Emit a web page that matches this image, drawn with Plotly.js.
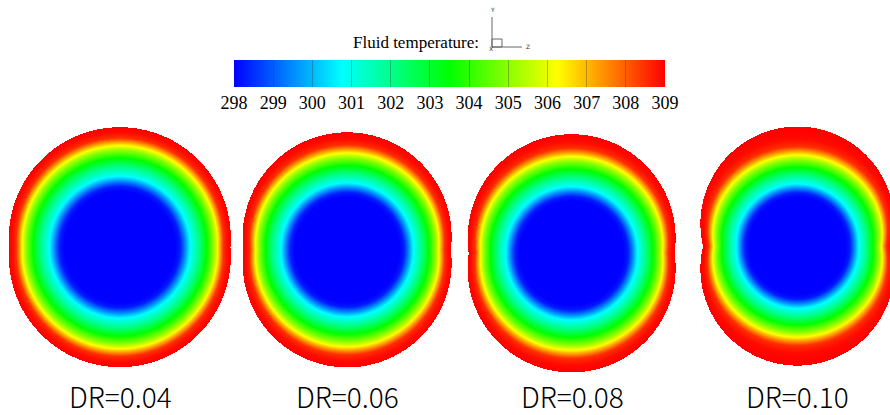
<!DOCTYPE html>
<html>
<head>
<meta charset="utf-8">
<script src="https://cdn.plot.ly/plotly-3.0.1.min.js"></script>
<style>html,body{margin:0;padding:0;background:#fff;}#chart{width:890px;height:415px;}</style>
</head>
<body>
<div id="chart"></div>
<script>
// ---------------- data ----------------
const panelLabels = ['DR=0.04', 'DR=0.06', 'DR=0.08', 'DR=0.10'];
// vertical distance between the centres of the two wall arcs, in pipe radii
const circleSeparation = [0.162, 0.249, 0.29, 0.464];
// radial temperature profile: distance from wall (in radii) -> fluid temperature (K)
const wallDistance     = [0,   0.03,  0.066, 0.09,  0.12,   0.156, 0.216, 0.29, 0.366,  0.41,  0.456, 0.5, 1.0];
const fluidTemperature = [309, 308.9, 308.5, 307.5, 306.25, 305,   303.5, 302,  300.75, 299.5, 298.3, 298, 298];
const colorbarTicks = [298, 299, 300, 301, 302, 303, 304, 305, 306, 307, 308, 309];
const legendTitle = 'Fluid temperature:';

// ---------------- layout / style ----------------
const W = 890, H = 415;
const panelPx = [
  {cx: 120,   cy: 247,   r: 111},
  {cx: 347.5, cy: 249.5, r: 104.5},
  {cx: 572,   cy: 253,   r: 104},
  {cx: 797,   cy: 246.5, r: 97}
];
const labelY = 396;
const blendPower = 4;

function profileAt(d) {
  if (d <= wallDistance[0]) return fluidTemperature[0];
  for (let i = 1; i < wallDistance.length; i++) {
    if (d <= wallDistance[i]) {
      const t = (d - wallDistance[i-1]) / (wallDistance[i] - wallDistance[i-1]);
      return fluidTemperature[i-1] + t * (fluidTemperature[i] - fluidTemperature[i-1]);
    }
  }
  return fluidTemperature[fluidTemperature.length - 1];
}

function fieldAt(x, y, sep) {
  const a = sep / 2;
  const in1 = x*x + (y-a)*(y-a) <= 1;
  const in2 = x*x + (y+a)*(y+a) <= 1;
  if (!in1 && !in2) return null;
  const r = Math.hypot(x, y);
  if (r < 1e-9) return profileAt(1);
  const s = y / r;
  const rho = a*Math.abs(s) + Math.sqrt(1 - a*a*(1 - s*s));
  const u = Math.min(1, r / rho);
  const reff = r * (1 + (1/rho - 1) * Math.pow(u, blendPower));
  return profileAt(1 - reff);
}

const traces = [];
const layout = {
  width: W, height: H,
  margin: {l: 0, r: 0, t: 0, b: 0},
  paper_bgcolor: '#ffffff',
  plot_bgcolor: 'rgba(0,0,0,0)',
  showlegend: false,
  coloraxis: {
    cmin: 298, cmax: 309,
    colorscale: [[0, 'rgb(0,0,255)'], [0.25, 'rgb(0,255,255)'], [0.5, 'rgb(0,255,0)'], [0.75, 'rgb(255,255,0)'], [1, 'rgb(255,0,0)']],
    colorbar: {
      orientation: 'h',
      x: 449.5 / W, xanchor: 'center', xpad: 0,
      y: 1 - 60 / H, yanchor: 'top', ypad: 0,
      lenmode: 'pixels', len: 431,
      thicknessmode: 'pixels', thickness: 27,
      tickmode: 'array', tickvals: colorbarTicks, ticktext: colorbarTicks.map(String),
      ticks: 'inside', ticklen: 27, tickwidth: 1, tickcolor: 'rgba(60,60,60,0.35)',
      tickfont: {family: 'Liberation Serif, Times New Roman, serif', size: 18, color: '#000'},
      outlinewidth: 0
    }
  },
  annotations: [],
  shapes: []
};

panelPx.forEach((p, i) => {
  const sep = circleSeparation[i];
  const a = sep / 2;
  const step = 1 / p.r;
  const xs = [], ys = [];
  for (let x = -1.03; x <= 1.03 + 1e-9; x += step) xs.push(x);
  for (let y = -(1 + a) - 0.03; y <= (1 + a) + 0.03 + 1e-9; y += step) ys.push(y);
  const z = ys.map(y => xs.map(x => fieldAt(x, y, sep)));
  const suf = i === 0 ? '' : String(i + 1);
  traces.push({
    type: 'heatmap', x: xs, y: ys, z: z,
    coloraxis: 'coloraxis', zsmooth: false, hoverinfo: 'skip',
    xaxis: 'x' + suf, yaxis: 'y' + suf
  });
  const halfW = p.r * 1.1, halfH = p.r * (1 + a) + 10;
  const L = Math.max(0, p.cx - halfW), R = Math.min(W, p.cx + halfW);
  const T = p.cy - halfH, B = p.cy + halfH;
  layout['xaxis' + suf] = {
    domain: [L / W, R / W], range: [(L - p.cx) / p.r, (R - p.cx) / p.r],
    visible: false, showgrid: false, zeroline: false, fixedrange: true,
    anchor: 'y' + suf
  };
  layout['yaxis' + suf] = {
    domain: [1 - B / H, 1 - T / H], range: [-(B - p.cy) / p.r, (p.cy - T) / p.r],
    visible: false, showgrid: false, zeroline: false, fixedrange: true,
    anchor: 'x' + suf
  };
  layout.annotations.push({
    xref: 'paper', yref: 'paper', x: p.cx / W, y: 1 - labelY / H,
    xanchor: 'center', yanchor: 'middle', showarrow: false,
    text: panelLabels[i],
    font: {family: 'Noto Sans CJK SC, Noto Sans, sans-serif', size: 28, color: '#000', weight: 300}
  });
});

// title of the colour legend
layout.annotations.push({
  xref: 'paper', yref: 'paper', x: 415.5 / W, y: 1 - 42 / H,
  xanchor: 'center', yanchor: 'middle', showarrow: false,
  text: legendTitle,
  font: {family: 'Liberation Serif, Times New Roman, serif', size: 17, color: '#000'}
});
// small axis triad
const tri = [
  {t: 'Y', x: 492, y: 10},
  {t: 'Z', x: 528, y: 47},
  {t: 'X', x: 491, y: 49}
];
tri.forEach(o => layout.annotations.push({
  xref: 'paper', yref: 'paper', x: o.x / W, y: 1 - o.y / H,
  xanchor: 'center', yanchor: 'middle', showarrow: false, text: o.t,
  font: {family: 'DejaVu Sans, sans-serif', size: 6, color: '#333'}
}));
const px = (x) => x / W, py = (y) => 1 - y / H;
layout.shapes.push(
  {type: 'line', xref: 'paper', yref: 'paper', x0: px(492), y0: py(17), x1: px(492), y1: py(47), line: {color: '#666', width: 1}},
  {type: 'line', xref: 'paper', yref: 'paper', x0: px(492), y0: py(47), x1: px(522), y1: py(47), line: {color: '#666', width: 1}},
  {type: 'rect', xref: 'paper', yref: 'paper', x0: px(492), y0: py(47), x1: px(502), y1: py(39), line: {color: '#666', width: 1}}
);

Plotly.newPlot('chart', traces, layout, {staticPlot: true, displayModeBar: false});
</script>
</body>
</html>
